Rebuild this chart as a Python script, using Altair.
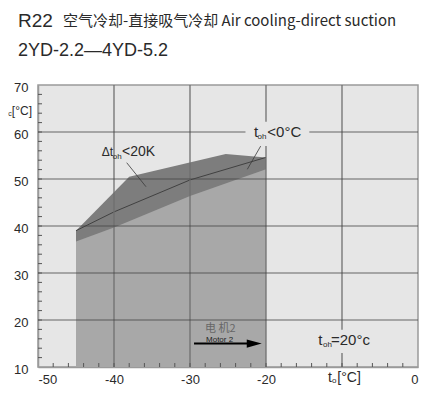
import altair as alt
import pandas as pd

# ---- data ----
# upper edge of the Δt_oh<20K band (dark)
upper_x = [-45, -38, -25.3, -20]
upper_y = [39.0, 50.5, 55.3, 54.6]
# lower edge of the band (top of the medium region)
lower_x = [-45, -40, -30, -20]
lower_y = [36.7, 39.7, 46.4, 52.1]
# thin line t_oh<0°C inside the band
mid_x = [-45, -40, -30, -20]
mid_y = [39.0, 43.0, 49.8, 54.6]
base_y = 10

x_grid = [-40, -30, -20, -10]
y_grid = [20, 30, 40, 50, 60]
x_minor = [v for v in range(-48, 0, 2)]
y_minor = [v for v in range(12, 70, 2)]

W, H = 380, 282
FONT = "Liberation Sans"
CJK = "Noto Sans CJK SC"
TXT = "#2a2a2a"

xs = alt.Scale(domain=[-50, 0], nice=False, zero=False)
ys = alt.Scale(domain=[10, 70], nice=False, zero=False)

dark = pd.DataFrame({"x": upper_x, "y": upper_y, "y2": [base_y] * len(upper_x)})
med = pd.DataFrame({"x": lower_x, "y": lower_y, "y2": [base_y] * len(lower_x)})
mid = pd.DataFrame({"x": mid_x, "y": mid_y})

dark_area = alt.Chart(dark).mark_area(color="#7d7d7d", opacity=1).encode(
    x=alt.X("x:Q", scale=xs, axis=alt.Axis(
        values=[-50, -40, -30, -20, -10, 0], title=None, ticks=False, tickSize=0,
        domain=True, domainColor="#9a9a9a", domainWidth=1.5, grid=False,
        labelFont=FONT, labelFontSize=13, labelColor=TXT, labelPadding=6,
        labelFlush=True,
        labelExpr="datum.value == -10 ? '' : replace(datum.label, '\u2212', '-')")),
    y=alt.Y("y:Q", scale=ys, axis=alt.Axis(
        values=[10, 20, 30, 40, 50, 60, 70], title=None, ticks=False, tickSize=0,
        domain=True, domainColor="#9a9a9a", domainWidth=1.5, grid=False,
        labelFont=FONT, labelFontSize=13, labelColor=TXT, labelPadding=10, labelOffset=2)),
    y2="y2:Q",
)
med_area = alt.Chart(med).mark_area(color="#a8a8a8", opacity=1).encode(
    x=alt.X("x:Q", scale=xs), y=alt.Y("y:Q", scale=ys), y2="y2:Q")
mid_line = alt.Chart(mid).mark_line(color="#3a3a3a", strokeWidth=0.9).encode(
    x=alt.X("x:Q", scale=xs), y=alt.Y("y:Q", scale=ys))

vgrid = alt.Chart(pd.DataFrame({"x": x_grid})).mark_rule(color="#6e6e6e", strokeWidth=1.6, opacity=0.8).encode(
    x=alt.X("x:Q", scale=xs))
hgrid = alt.Chart(pd.DataFrame({"y": y_grid})).mark_rule(color="#444", strokeWidth=1, opacity=0.8).encode(
    y=alt.Y("y:Q", scale=ys))
xminor = alt.Chart(pd.DataFrame({"x": x_minor})).mark_rule(color="#555", strokeWidth=1).encode(
    x=alt.X("x:Q", scale=xs), y=alt.value(H - 4), y2=alt.value(H))
yminor = alt.Chart(pd.DataFrame({"y": y_minor})).mark_rule(color="#555", strokeWidth=1).encode(
    y=alt.Y("y:Q", scale=ys), x=alt.value(0), x2=alt.value(4))

# label background boxes (data coords)
boxes = pd.DataFrame({
    "x": [-22.7, -13.6], "x2": [-14.3, -5.7],
    "y": [62.2, 17.9], "y2": [57.0, 13.0],
})
box_layer = alt.Chart(boxes).mark_rect(color="#e6e6e6").encode(
    x=alt.X("x:Q", scale=xs), x2="x2:Q", y=alt.Y("y:Q", scale=ys), y2="y2:Q")

# leader lines
leaders = pd.DataFrame({
    "x": [-38.33, -20.7], "x2": [-35.79, -22.46],
    "y": [53.47, 57.0], "y2": [48.36, 52.06],
})
leader_layer = alt.Chart(leaders).mark_rule(color="#3a3a3a", strokeWidth=0.8).encode(
    x=alt.X("x:Q", scale=xs), x2="x2:Q", y=alt.Y("y:Q", scale=ys), y2="y2:Q")

# motor arrow
arrow = pd.DataFrame({"x": [-29.47], "x2": [-21.6], "y": [15.0]})
arrow_line = alt.Chart(arrow).mark_rule(color="#000", strokeWidth=2).encode(
    x=alt.X("x:Q", scale=xs), x2="x2:Q", y=alt.Y("y:Q", scale=ys))
arrow_head = alt.Chart(pd.DataFrame({"x": [-21.55], "y": [15.0]})).mark_point(
    shape="M-1,-0.55L1,0L-1,0.55Z", filled=True, color="#000", opacity=1, size=225).encode(
    x=alt.X("x:Q", scale=xs), y=alt.Y("y:Q", scale=ys))

# annotation texts (data coords, left aligned, alphabetic baseline)
ann_text = ["\u0394t", "oh", "<20K",
            "t", "oh", "<0\u00b0C",
            "t", "oh", "=20\u00b0c",
            "t", "o", "[\u00b0C]"]
ann_x = [-41.62, -40.17, -38.95,
         -21.58, -21.12, -19.83,
         -13.12, -12.5, -11.45,
         -11.84, -11.32, -10.62]
ann_y = [54.89, 54.36, 54.89,
         59.0, 58.51, 59.0,
         14.68, 14.15, 14.68,
         6.87, 6.49, 6.87]
ann_size = [12, 8, 14,
            15, 8, 15,
            15, 8, 15,
            14, 8, 14]
ann = pd.DataFrame({"t": ann_text, "x": ann_x, "y": ann_y, "s": ann_size})
ann_layer = alt.Chart(ann).mark_text(align="left", baseline="alphabetic", font=FONT, color=TXT).encode(
    x=alt.X("x:Q", scale=xs), y=alt.Y("y:Q", scale=ys), text="t:N",
    size=alt.Size("s:Q", scale=None, legend=None))

motor_cn = alt.Chart(pd.DataFrame({"t": ["\u7535 \u673a2"], "x": [-28.03], "y": [17.51]})).mark_text(
    align="left", baseline="alphabetic", font=CJK, fontSize=11, color="#666").encode(
    x=alt.X("x:Q", scale=xs), y=alt.Y("y:Q", scale=ys), text="t:N")
motor_en = alt.Chart(pd.DataFrame({"t": ["Motor 2"], "x": [-27.89], "y": [15.38]})).mark_text(
    align="left", baseline="alphabetic", font=FONT, fontSize=8, color="#222").encode(
    x=alt.X("x:Q", scale=xs), y=alt.Y("y:Q", scale=ys), text="t:N")

# y-axis title pieces
ytitle = alt.Chart(pd.DataFrame({"t": ["[\u00b0C]"], "x": [-50.79], "y": [63.72]})).mark_text(
    align="right", baseline="alphabetic", font=FONT, fontSize=12, color=TXT).encode(
    x=alt.X("x:Q", scale=xs), y=alt.Y("y:Q", scale=ys), text="t:N")
ysub = alt.Chart(pd.DataFrame({"t": ["c"], "x": [-53.93], "y": [63.4]})).mark_text(
    align="left", baseline="alphabetic", font=FONT, fontSize=7, color=TXT).encode(
    x=alt.X("x:Q", scale=xs), y=alt.Y("y:Q", scale=ys), text="t:N")

# heading
head1 = alt.Chart(pd.DataFrame({"t": ["R22"]})).mark_text(
    align="left", baseline="alphabetic", font=FONT, fontSize=19, color=TXT).encode(
    x=alt.value(-20), y=alt.value(-58), text="t:N")
head1b = alt.Chart(pd.DataFrame({"t": ["\u7a7a\u6c14\u51b7\u5374-\u76f4\u63a5\u5438\u6c14\u51b7\u5374 Air cooling-direct suction"]})).mark_text(
    align="left", baseline="alphabetic", font=CJK, fontSize=15, color=TXT).encode(
    x=alt.value(25), y=alt.value(-59), text="t:N")
head2 = alt.Chart(pd.DataFrame({"t": ["2YD-2.2\u20144YD-5.2"]})).mark_text(
    align="left", baseline="alphabetic", font=FONT, fontSize=18, color=TXT).encode(
    x=alt.value(-20), y=alt.value(-29), text="t:N")

chart = alt.layer(
    dark_area, med_area, mid_line, vgrid, hgrid, xminor, yminor,
    box_layer, leader_layer, arrow_line, arrow_head, ann_layer, motor_cn, motor_en,
    ytitle, ysub, head1, head1b, head2,
).properties(
    width=W, height=H,
    autosize=alt.AutoSizeParams(type="none"),
    padding={"left": 30, "top": 77, "right": 2, "bottom": 27},
    background="white",
).configure_view(stroke="#9a9a9a", strokeWidth=1.5, fill="#e6e6e6")

chart.save("out.html", embed_options={"renderer": "svg", "actions": False})
